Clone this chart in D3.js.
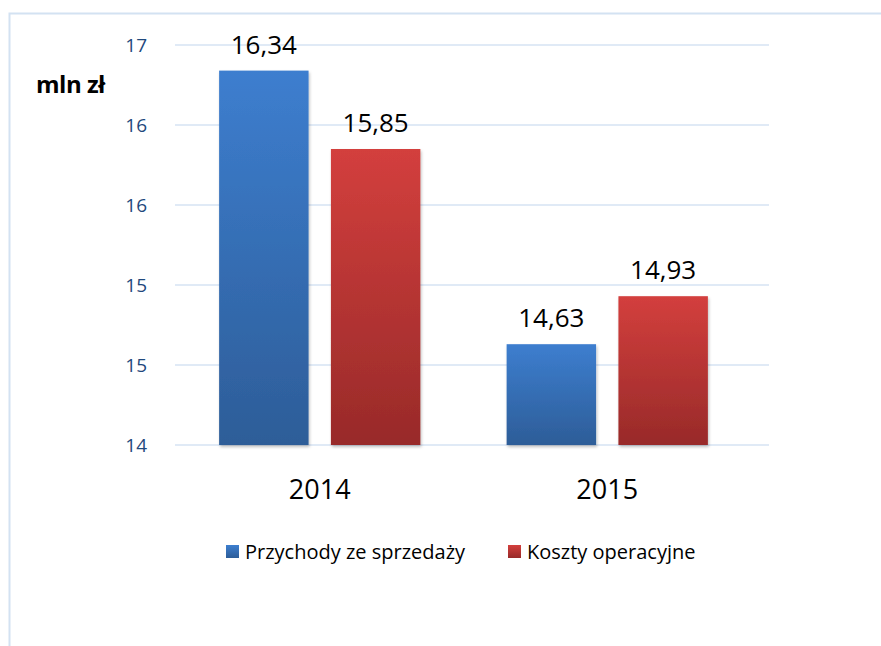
<!DOCTYPE html>
<html>
<head>
<meta charset="utf-8">
<title>Przychody i koszty</title>
<script src="https://d3js.org/d3.v7.min.js"></script>
<style>
  body { margin: 0; background: #fff; }
  text { font-family: "Open Sans", "Noto Sans", sans-serif; }
</style>
</head>
<body>
<div id="chart"></div>
<script>
// dane
const years = ["2014", "2015"];
const seriesNames = ["Przychody ze sprzedaży", "Koszty operacyjne"];
const przychody = [16.34, 14.63];
const koszty = [15.85, 14.93];
const yTicks = [14, 14.5, 15, 15.5, 16, 16.5];

const W = 881, H = 646;
const svg = d3.select("#chart").append("svg")
    .attr("width", W).attr("height", H);

// gradienty slupkow
const defs = svg.append("defs");
const grads = [["gBlue", "#3d7ecf", "#2d5d98"], ["gRed", "#d33f3d", "#982a29"]];
grads.forEach(g => {
  const lg = defs.append("linearGradient").attr("id", g[0])
      .attr("x1", 0).attr("y1", 0).attr("x2", 0).attr("y2", 1);
  lg.append("stop").attr("offset", "0%").attr("stop-color", g[1]);
  lg.append("stop").attr("offset", "100%").attr("stop-color", g[2]);
});
const shadow = defs.append("filter").attr("id", "sh")
    .attr("x", "-10%").attr("y", "-10%").attr("width", "130%").attr("height", "130%");
shadow.append("feDropShadow").attr("dx", 1).attr("dy", 2).attr("stdDeviation", 1.5)
    .attr("flood-color", "#000").attr("flood-opacity", 0.25);

// ramka
svg.append("rect")
    .attr("x", 9.5).attr("y", 13.5).attr("width", 900).attr("height", 700)
    .attr("fill", "none").attr("stroke", "#d3e2f2").attr("stroke-width", 2);

const y = d3.scaleLinear().domain([14, 16.5]).range([445, 45]);
const x0 = d3.scaleBand().domain(years).range([176, 751])
    .paddingInner(0.3).paddingOuter(0.15);
const x1 = d3.scaleBand().domain(seriesNames).range([0, x0.bandwidth()])
    .paddingInner(0.2);
const fills = ["url(#gBlue)", "url(#gRed)"];

// siatka
svg.append("g").selectAll("line").data(yTicks).join("line")
    .attr("x1", 175).attr("x2", 769)
    .attr("y1", d => y(d)).attr("y2", d => y(d))
    .attr("stroke", "#d6e3f3").attr("stroke-width", 1.6);

// etykiety osi Y (zaokraglone)
svg.append("g").selectAll("text").data(yTicks).join("text")
    .attr("x", 147).attr("y", d => y(d)).attr("dy", "0.35em")
    .attr("text-anchor", "end").attr("font-size", 19).attr("fill", "#1f497d")
    .text(d => d3.format(".0f")(d));

svg.append("text").attr("x", 36).attr("y", 93)
    .attr("font-size", 24).attr("font-weight", "bold").attr("fill", "#000")
    .attr("letter-spacing", -0.5)
    .text("mln zł");

const pl = d3.formatLocale({decimal: ",", thousands: " ", grouping: [3], currency: ["", " zł"]});
const fmt = pl.format(".2f");

const rows = years.map((yr, i) => ({year: yr, vals: [przychody[i], koszty[i]]}));

const groups = svg.append("g").selectAll("g").data(rows).join("g")
    .attr("transform", d => "translate(" + x0(d.year) + ",0)");

groups.selectAll("rect").data(d => d.vals.map((v, j) => ({s: seriesNames[j], v: v, j: j})))
  .join("rect")
    .attr("x", d => x1(d.s)).attr("width", x1.bandwidth())
    .attr("y", d => y(d.v)).attr("height", d => y(14) - y(d.v))
    .attr("fill", d => fills[d.j]).attr("filter", "url(#sh)");

groups.selectAll("text.val").data(d => d.vals.map((v, j) => ({s: seriesNames[j], v: v})))
  .join("text").attr("class", "val")
    .attr("x", d => x1(d.s) + x1.bandwidth() / 2).attr("y", d => y(d.v) - 17)
    .attr("text-anchor", "middle").attr("font-size", 26).attr("fill", "#000")
    .text(d => fmt(d.v));

// etykiety kategorii
svg.append("g").selectAll("text").data(years).join("text")
    .attr("x", d => x0(d) + x0.bandwidth() / 2).attr("y", 499)
    .attr("text-anchor", "middle").attr("font-size", 27).attr("fill", "#000")
    .text(d => d);

// legenda
const legX = [226, 508];
const leg = svg.append("g").selectAll("g").data(seriesNames).join("g")
    .attr("transform", (d, i) => "translate(" + legX[i] + ",545)");
leg.append("rect").attr("width", 13).attr("height", 13)
    .attr("fill", (d, i) => fills[i]);
leg.append("text").attr("x", 19).attr("y", 7).attr("dy", "0.35em")
    .attr("font-size", 20).attr("fill", "#000").text(d => d);
</script>
</body>
</html>
